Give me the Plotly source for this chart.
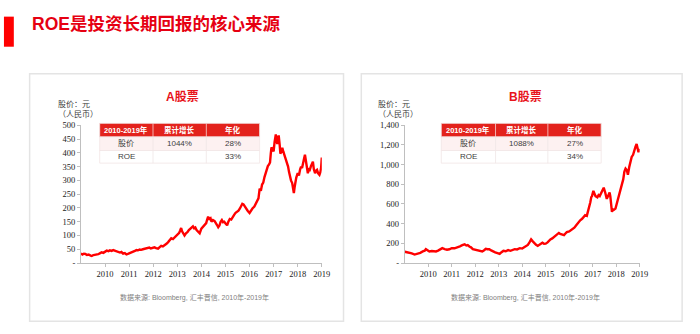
import plotly.graph_objects as go

W, H = 700, 334

# ---- A股票: price index (decimal year, CNY) ----
a_years = [
    2009.00, 2009.06, 2009.12, 2009.18, 2009.25, 2009.32, 2009.40, 2009.45, 2009.52, 2009.60,
    2009.66, 2009.72, 2009.80, 2009.86, 2009.93, 2010.00, 2010.07, 2010.14, 2010.20, 2010.27,
    2010.34, 2010.40, 2010.48, 2010.55, 2010.62, 2010.68, 2010.75, 2010.82, 2010.89, 2010.95,
    2011.02, 2011.10, 2011.17, 2011.24, 2011.30, 2011.37, 2011.44, 2011.50, 2011.57, 2011.64,
    2011.70, 2011.77, 2011.84, 2011.90, 2011.97, 2012.05, 2012.12, 2012.20, 2012.27, 2012.33,
    2012.40, 2012.47, 2012.55, 2012.62, 2012.68, 2012.75, 2012.82, 2012.90, 2012.96, 2013.02,
    2013.08, 2013.12, 2013.16, 2013.20, 2013.25, 2013.30, 2013.36, 2013.42, 2013.48, 2013.54,
    2013.60, 2013.65, 2013.70, 2013.75, 2013.80, 2013.86, 2013.93, 2014.00, 2014.05, 2014.10,
    2014.14, 2014.20, 2014.24, 2014.28, 2014.33, 2014.38, 2014.42, 2014.48, 2014.55, 2014.60,
    2014.65, 2014.70, 2014.75, 2014.80, 2014.85, 2014.90, 2014.95, 2015.02, 2015.07, 2015.12,
    2015.18, 2015.24, 2015.30, 2015.36, 2015.42, 2015.48, 2015.54, 2015.60, 2015.65, 2015.70,
    2015.75, 2015.80, 2015.86, 2015.92, 2016.00, 2016.06, 2016.12, 2016.20, 2016.26, 2016.32,
    2016.37, 2016.42, 2016.47, 2016.52, 2016.57, 2016.62, 2016.67, 2016.71, 2016.76, 2016.81,
    2016.85, 2016.88, 2016.91, 2016.95, 2017.00, 2017.04, 2017.09, 2017.12, 2017.15, 2017.18,
    2017.21, 2017.25, 2017.28, 2017.32, 2017.36, 2017.40, 2017.45, 2017.50, 2017.55, 2017.60,
    2017.64, 2017.68, 2017.72, 2017.77, 2017.81, 2017.84, 2017.87, 2017.90, 2017.94, 2018.00,
    2018.05, 2018.10, 2018.14, 2018.18, 2018.22, 2018.26, 2018.30, 2018.34, 2018.38, 2018.42,
    2018.46, 2018.50, 2018.55, 2018.60, 2018.63, 2018.67, 2018.72, 2018.76, 2018.80, 2018.85,
    2018.90, 2018.94, 2018.97, 2019.00,
]
a_price = [
    35, 31, 34, 33, 29, 31, 27, 26, 29, 30,
    33, 32, 36, 39, 37, 41, 45, 43, 46, 44,
    47, 45, 43, 42, 38, 40, 34, 36, 31, 33,
    35, 39, 41, 44, 47, 46, 49, 48, 50, 52,
    51, 54, 56, 53, 55, 57, 54, 52, 58, 62,
    60, 64, 70, 76, 82, 90, 87, 95, 98, 103,
    110, 118, 127, 115, 108, 100, 108, 112, 120, 124,
    131, 133, 126, 129, 120, 116, 108, 125, 130, 133,
    140, 145, 158, 168, 160, 163, 150, 156, 152, 142,
    138, 130, 136, 150, 156, 148, 150, 142, 137, 150,
    160, 158, 168, 175, 182, 186, 190, 198, 208, 215,
    213, 205, 198, 190, 182, 192, 198, 205, 215, 222,
    235, 270, 262, 285, 292, 312, 330, 345, 352, 358,
    365, 395, 420, 412, 405, 440, 467, 445, 432, 452,
    463, 430, 397, 405, 418, 405, 392, 378, 362, 350,
    330, 310, 300, 290, 268, 254, 275, 298, 310, 326,
    318, 340, 350, 345, 368, 378, 393, 372, 345, 326,
    340, 338, 352, 362, 368, 340, 326, 335, 338, 325,
    320, 330, 345, 383,
]

# ---- B股票: price index (decimal year, CNY) ----
b_years = [
    2009.00, 2009.10, 2009.20, 2009.30, 2009.42, 2009.50, 2009.56, 2009.66, 2009.77, 2009.85,
    2009.90, 2009.96, 2010.05, 2010.15, 2010.25, 2010.33, 2010.42, 2010.50, 2010.60, 2010.70,
    2010.80, 2010.90, 2011.00, 2011.12, 2011.25, 2011.35, 2011.45, 2011.55, 2011.62, 2011.68,
    2011.75, 2011.82, 2011.90, 2012.00, 2012.10, 2012.20, 2012.30, 2012.38, 2012.45, 2012.52,
    2012.60, 2012.68, 2012.76, 2012.85, 2012.95, 2013.04, 2013.12, 2013.20, 2013.30, 2013.40,
    2013.50, 2013.58, 2013.68, 2013.78, 2013.90, 2014.00, 2014.10, 2014.18, 2014.24, 2014.31,
    2014.38, 2014.45, 2014.52, 2014.59, 2014.66, 2014.74, 2014.80, 2014.86, 2014.93, 2015.00,
    2015.08, 2015.15, 2015.20, 2015.28, 2015.35, 2015.42, 2015.50, 2015.56, 2015.62, 2015.70,
    2015.78, 2015.84, 2015.90, 2016.00, 2016.08, 2016.15, 2016.22, 2016.30, 2016.40, 2016.47,
    2016.55, 2016.62, 2016.68, 2016.75, 2016.80, 2016.86, 2016.90, 2016.94, 2016.97, 2017.03,
    2017.07, 2017.12, 2017.20, 2017.25, 2017.30, 2017.35, 2017.42, 2017.47, 2017.53, 2017.60,
    2017.67, 2017.72, 2017.75, 2017.79, 2017.82, 2017.86, 2017.90, 2017.97, 2018.04, 2018.10,
    2018.17, 2018.24, 2018.30, 2018.35, 2018.40, 2018.45, 2018.50, 2018.56, 2018.62, 2018.66,
    2018.72, 2018.76, 2018.82, 2018.87, 2018.92, 2018.95, 2019.00,
]
b_price = [
    115, 110, 108, 98, 86, 90, 92, 104, 118, 125,
    141, 128, 118, 122, 116, 118, 126, 134, 151, 142,
    135, 140, 151, 150, 158, 170, 181, 190, 178, 183,
    168, 160, 141, 135, 131, 125, 118, 130, 145, 140,
    141, 128, 115, 108, 100, 92, 110, 125, 120, 131,
    124, 130, 141, 138, 151, 147, 164, 170, 184, 210,
    240, 220, 197, 185, 174, 190, 200, 207, 195, 197,
    210, 228, 240, 250, 263, 275, 290, 306, 295, 290,
    283, 300, 315, 322, 335, 345, 360, 385, 421, 435,
    450, 470, 486, 480, 520, 560, 618, 670, 680, 733,
    700, 680, 668, 690, 680, 701, 740, 766, 720, 652,
    690, 716, 680, 600, 520, 545, 540, 553, 620, 668,
    720, 782, 850, 930, 960, 946, 897, 980, 1040, 1078,
    1100, 1144, 1180, 1210, 1150, 1127, 1160,
]

# ---- axis ticks ----
x_ticks = list(range(2010, 2020))
a_y_ticks = [0, 50, 100, 150, 200, 250, 300, 350, 400, 450, 500]
b_y_ticks = [0, 200, 400, 600, 800, 1000, 1200, 1400]

# ---- summary tables ----
table_header = ["2010-2019年", "累计增长", "年化"]
table_rows_label = ["股价", "ROE"]
a_cum_growth = ["1044%", ""]
a_annualized = ["28%", "33%"]
b_cum_growth = ["1088%", ""]
b_annualized = ["27%", "34%"]

page_title = "ROE是投资长期回报的核心来源"
chart_titles = ["A股票", "B股票"]
y_unit = ["股价：元", "（人民币）"]
source_note = "数据来源: Bloomberg, 汇丰晋信, 2010年-2019年"

RED = "#ff0000"
HEAD_RED = "#e3221c"
GREY_TXT = "#404040"
CJK = "Noto Sans CJK SC"
SANS = "Liberation Sans, Noto Sans CJK SC"
SERIF = "Liberation Serif, Noto Sans CJK SC"


def px_x(x):
    return x / W


def px_y(y):
    return 1 - y / H


def tick_text(vals):
    return ["-" if v == 0 else f"{v:,}" for v in vals]


fig = go.Figure()
fig.add_trace(go.Scatter(x=a_years, y=a_price, mode="lines",
                         line=dict(color=RED, width=2.4), xaxis="x", yaxis="y",
                         showlegend=False, hoverinfo="skip"))
fig.add_trace(go.Scatter(x=b_years, y=b_price, mode="lines",
                         line=dict(color=RED, width=2.4), xaxis="x2", yaxis="y2",
                         showlegend=False, hoverinfo="skip"))

y_dom = [px_y(266), px_y(124)]
common_x = dict(range=[2009, 2019], tickvals=x_ticks, ticktext=[str(v) for v in x_ticks],
                showgrid=False, zeroline=False, showline=True, linecolor="#bfbfbf",
                linewidth=1, ticks="outside", ticklen=3, tickcolor="#bfbfbf",
                tickfont=dict(family=SERIF, size=8.5, color="#222222"), fixedrange=True)
common_y = dict(showgrid=False, zeroline=False, showline=True, linecolor="#bfbfbf",
                linewidth=1, ticks="outside", ticklen=3, tickcolor="#bfbfbf",
                tickfont=dict(family=SERIF, size=8.5, color="#222222"), fixedrange=True,
                domain=y_dom)

fig.update_layout(
    width=W, height=H, margin=dict(l=0, r=0, t=0, b=0),
    paper_bgcolor="white", plot_bgcolor="white",
    xaxis=dict(common_x, domain=[px_x(82), px_x(326)], anchor="y"),
    yaxis=dict(common_y, range=[0, 500], tickvals=a_y_ticks,
               ticktext=tick_text(a_y_ticks), anchor="x"),
    xaxis2=dict(common_x, domain=[px_x(410), px_x(648)], anchor="y2"),
    yaxis2=dict(common_y, range=[0, 1400], tickvals=b_y_ticks,
                ticktext=tick_text(b_y_ticks), anchor="x2"),
)

shapes = []
annotations = []

# page heading with red marker bar
shapes.append(dict(type="rect", xref="paper", yref="paper",
                   x0=px_x(4), x1=px_x(14), y0=px_y(43), y1=px_y(12),
                   fillcolor=RED, line=dict(width=0)))
annotations.append(dict(text=f"<b>{page_title}</b>", xref="paper", yref="paper",
                        x=px_x(30), y=px_y(20), xanchor="left", yanchor="middle",
                        showarrow=False, font=dict(family=SANS, size=17.5, color="#e60012")))

panels = [
    dict(box=(30, 348), title_x=185, unit_x=57, table=(101, 155, 209, 263),
         cum=a_cum_growth, ann=a_annualized, note_x=197),
    dict(box=(366, 691), title_x=532, unit_x=381, table=(447, 502, 555, 609),
         cum=b_cum_growth, ann=b_annualized, note_x=532),
]

row_y = [122, 136, 150, 163]
for i, p in enumerate(panels):
    bx0, bx1 = p["box"]
    shapes.append(dict(type="rect", xref="paper", yref="paper",
                       x0=px_x(bx0), x1=px_x(bx1), y0=px_y(326), y1=px_y(71),
                       fillcolor="rgba(0,0,0,0)", line=dict(color="#e4e4e4", width=1.5)))
    annotations.append(dict(text=f"<b>{chart_titles[i]}</b>", xref="paper", yref="paper",
                            x=px_x(p["title_x"]), y=px_y(95), xanchor="center",
                            yanchor="middle", showarrow=False,
                            font=dict(family=SANS, size=12, color="#e8141c")))
    for k, line in enumerate(y_unit):
        annotations.append(dict(text=line, xref="paper", yref="paper",
                                x=px_x(p["unit_x"]), y=px_y(102 + 10 * k),
                                xanchor="left", yanchor="middle", showarrow=False,
                                font=dict(family=CJK, size=8, color=GREY_TXT)))
    annotations.append(dict(text=source_note, xref="paper", yref="paper",
                            x=px_x(p["note_x"]), y=px_y(302), xanchor="center",
                            yanchor="middle", showarrow=False,
                            font=dict(family=SANS, size=7, color="#808080")))

    cols = p["table"]
    row_fills = [HEAD_RED, "#fdf1f1", "#ffffff"]
    for r in range(3):
        shapes.append(dict(type="rect", xref="paper", yref="paper",
                           x0=px_x(cols[0]), x1=px_x(cols[3]),
                           y0=px_y(row_y[r + 1]), y1=px_y(row_y[r]),
                           fillcolor=row_fills[r], line=dict(color="#f1e4e4", width=0.8)))
        for c in range(1, 3):
            shapes.append(dict(type="line", xref="paper", yref="paper",
                               x0=px_x(cols[c]), x1=px_x(cols[c]),
                               y0=px_y(row_y[r + 1]), y1=px_y(row_y[r]),
                               line=dict(color="#f6d6d6" if r == 0 else "#efe6e6", width=0.8)))
    body = [[table_rows_label[j], p["cum"][j], p["ann"][j]] for j in range(2)]
    for c in range(3):
        cx = (cols[c] + cols[c + 1]) / 2
        annotations.append(dict(text=f"<b>{table_header[c]}</b>", xref="paper", yref="paper",
                                x=px_x(cx), y=px_y((row_y[0] + row_y[1]) / 2),
                                xanchor="center", yanchor="middle", showarrow=False,
                                font=dict(family=SANS, size=7.5, color="white")))
        for j in range(2):
            if body[j][c]:
                annotations.append(dict(text=body[j][c], xref="paper", yref="paper",
                                        x=px_x(cx), y=px_y((row_y[j + 1] + row_y[j + 2]) / 2),
                                        xanchor="center", yanchor="middle", showarrow=False,
                                        font=dict(family=SANS, size=8, color=GREY_TXT)))

fig.update_layout(shapes=shapes, annotations=annotations)
fig.write_html("out.html")
